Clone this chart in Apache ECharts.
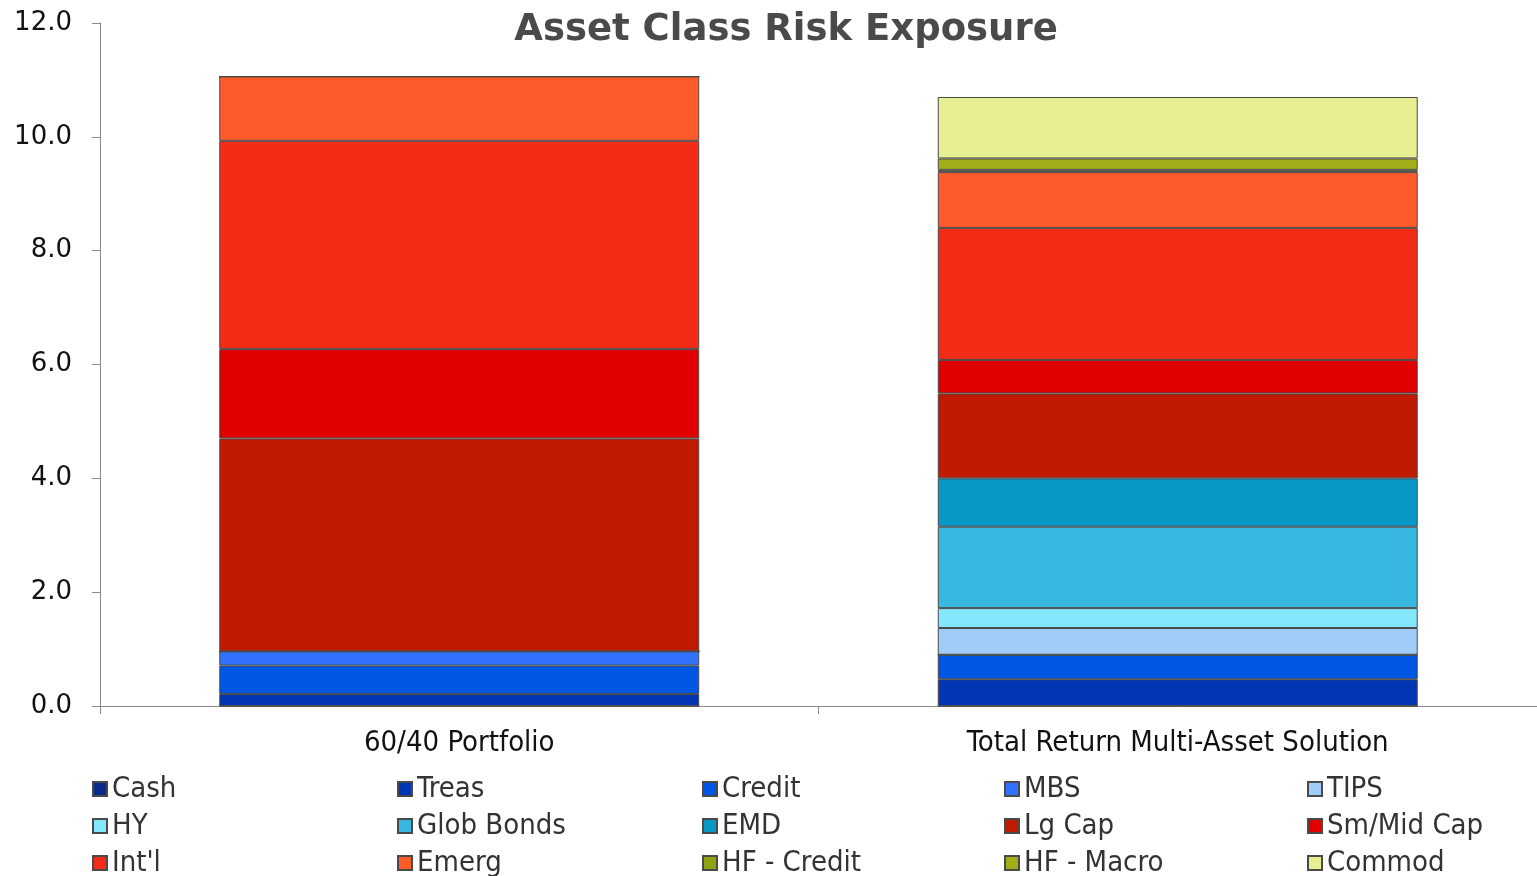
<!DOCTYPE html>
<html>
<head>
<meta charset="utf-8">
<script src="https://cdn.jsdelivr.net/npm/echarts@6/dist/echarts.min.js"></script>
<style>
html,body{margin:0;padding:0;background:#fff;}
#chart{width:1537px;height:876px;}
</style>
</head>
<body>
<div id="chart"></div>
<script>
const categories = ['60/40 Portfolio', 'Total Return Multi-Asset Solution'];
const yTicks = [0, 2, 4, 6, 8, 10, 12];

const cash      = [0, 0];
const treas     = [0.21, 0.47];
const credit    = [0.50, 0.43];
const mbs       = [0.25, 0];
const tips      = [0, 0.47];
const hy        = [0, 0.35];
const globBonds = [0, 1.43];
const emd       = [0, 0.85];
const lgCap     = [3.74, 1.49];
const smMidCap  = [1.57, 0.59];
const intl      = [3.66, 2.32];
const emerg     = [1.13, 0.98];
const hfCredit  = [0, 0.04];
const hfMacro   = [0, 0.20];
const commod    = [0, 1.08];

const seriesNames = ['Cash','Treas','Credit','MBS','TIPS','HY','Glob Bonds','EMD','Lg Cap','Sm/Mid Cap',"Int'l",'Emerg','HF - Credit','HF - Macro','Commod'];
const seriesData = [cash,treas,credit,mbs,tips,hy,globBonds,emd,lgCap,smMidCap,intl,emerg,hfCredit,hfMacro,commod];
const seriesColors = ['#0b2a8c','#0036b4','#0056e4','#3272ff','#a2ccf8','#84e8fc','#38b8e0','#0898c6','#c01a00','#e00000','#f22c16','#ff5a2a','#8ea212','#a2ae18','#e8ee92'];

// legend laid out in 5 columns, 3 rows (row-major order of names)
const legendCols = [87, 392, 697, 999, 1302];
const legends = legendCols.map((x, c) => ({
  data: [seriesNames[c], seriesNames[c + 5], seriesNames[c + 10]],
  left: x, top: 769, width: 230, height: 200,
  orient: 'vertical',
  itemWidth: 14, itemHeight: 14, itemGap: 7,
  icon: 'rect',
  textStyle: { fontFamily: 'DejaVu Sans Condensed, DejaVu Sans', fontSize: 29, color: '#333', lineHeight: 30 },
  selectedMode: false
}));

const chart = echarts.init(document.getElementById('chart'));
chart.setOption({
  animation: false,
  backgroundColor: '#ffffff',
  title: {
    text: 'Asset Class Risk Exposure',
    left: 781, top: 7, textAlign: 'center',
    textStyle: { fontFamily: 'DejaVu Sans', fontWeight: 'bold', fontSize: 37, color: '#4a4a4a' }
  },
  legend: legends,
  grid: { left: 100, right: 0, top: 23, bottom: 170 },
  xAxis: {
    type: 'category',
    data: categories,
    axisLine: { lineStyle: { color: '#8a8a8a', width: 1 } },
    axisTick: { show: true, length: 8, lineStyle: { color: '#8a8a8a' } },
    axisLabel: { fontFamily: 'DejaVu Sans Condensed, DejaVu Sans', fontSize: 29, color: '#111', margin: 23 }
  },
  yAxis: {
    type: 'value',
    min: yTicks[0], max: yTicks[yTicks.length - 1], interval: 2,
    splitLine: { show: false },
    axisLine: { show: true, lineStyle: { color: '#8a8a8a', width: 1 } },
    axisTick: { show: true, length: 8, lineStyle: { color: '#8a8a8a' } },
    axisLabel: { fontFamily: 'DejaVu Sans', fontSize: 26, color: '#111', margin: 28, formatter: v => v.toFixed(1) }
  },
  series: seriesNames.map((name, i) => ({
    name: name,
    type: 'bar',
    stack: 'total',
    barWidth: '66.8%',
    data: seriesData[i],
    itemStyle: { color: seriesColors[i], borderColor: '#4a4a4a', borderWidth: 1 }
  }))
});
</script>
</body>
</html>
